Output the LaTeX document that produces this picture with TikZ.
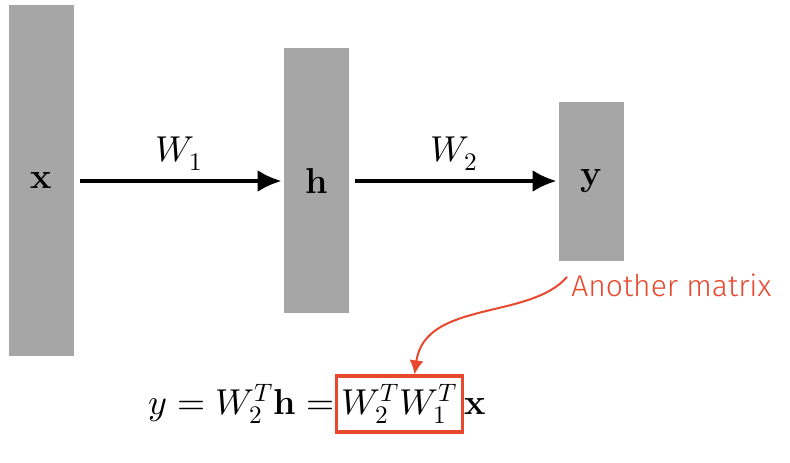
\documentclass[tikz,border=0pt]{standalone}
\usepackage{fontspec}
\usepackage{unicode-math}
\setmathfont{Latin Modern Math}
\newfontfamily\notefont{Fira Sans}[UprightFont={* Light}]
\usetikzlibrary{positioning,arrows.meta}
\definecolor{layergray}{HTML}{A6A6A6}
\definecolor{noteRed}{HTML}{E8482E}
\begin{document}
\begin{tikzpicture}[x=0.5pt,y=-0.5pt,
  layer/.style={fill=layergray,inner sep=0pt,minimum width=32.5pt,font=\fontsize{18}{21}\selectfont},
  mapping/.style={-{Latex[length=12pt,width=11pt]},line width=2pt},
  every label/.style={font=\fontsize{18}{21}\selectfont}]
\useasboundingbox (0,0) rectangle (790,462);
\node[layer,minimum height=175.5pt] (x) at (41.5,180.5) {$\mathbf{x}$};
\node[layer,minimum height=132.5pt] (h) at (316.5,180.5) {$\mathbf{h}$};
\node[layer,minimum height=79.5pt] (y) at (591.5,181.5) {$\mathbf{y}$};
\draw[mapping,shorten <=3pt,shorten >=1pt] (x.east |- 0,181) -- node[above=1pt,font=\fontsize{18}{21}\selectfont] {$W_1$} (h.west |- 0,181);
\draw[mapping,shorten <=3pt,shorten >=1pt] (h.east |- 0,181) -- node[above=1pt,font=\fontsize{18}{21}\selectfont] {$W_2$} (y.west |- 0,181);
% equation with highlighted product
\node[draw=noteRed,line width=1.6pt,inner sep=2.5pt,minimum height=28pt,font=\fontsize{18}{21}\selectfont] (prod) at (399.5,404) {$W_2^T W_1^T$};
\node[anchor=base east,inner sep=0pt,font=\fontsize{18}{21}\selectfont] (lhs) at (prod.base west) {$y = W_2^T\mathbf{h} =$};
\node[anchor=base west,inner sep=0pt,font=\fontsize{18}{21}\selectfont] (rhs) at (prod.base east) {$\mathbf{x}$};
\node[anchor=base west,inner sep=0pt,text=noteRed,font=\notefont\fontsize{15}{18}\selectfont] (note) at (571,296) {Another matrix};
\draw[noteRed,line width=1pt,-{Latex[length=7pt,width=7pt]}] ([xshift=-2pt,yshift=4pt]note.west) .. controls (530,320) and (425,300) .. ([xshift=7.5pt]prod.north);
\end{tikzpicture}
\end{document}
